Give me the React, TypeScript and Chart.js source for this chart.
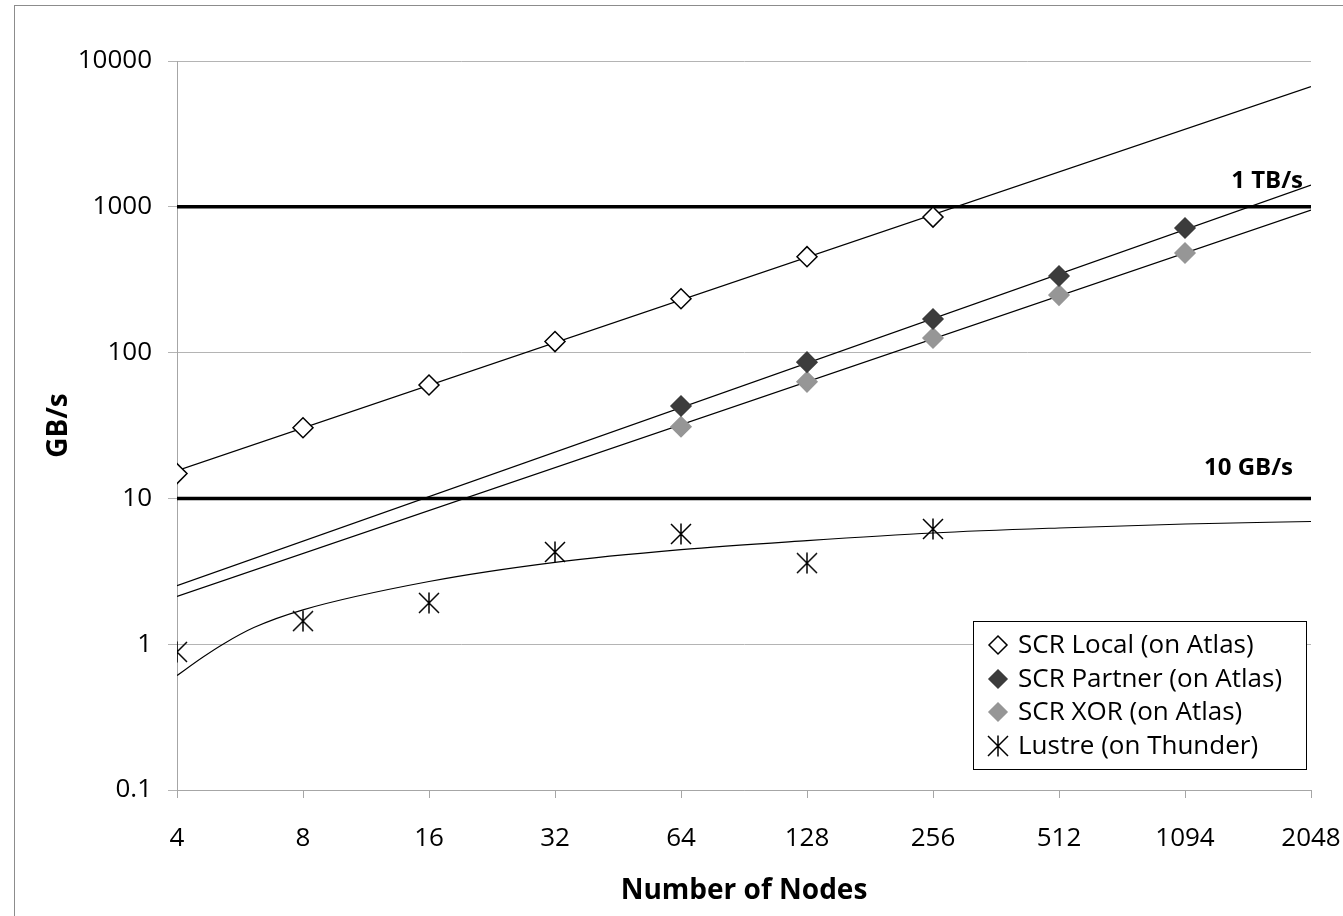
import React, { useEffect, useRef } from "react";
import { Chart, registerables } from "chart.js";

Chart.register(...registerables);

// ---- data ----
const nodeLabels = ["4", "8", "16", "32", "64", "128", "256", "512", "1094", "2048"];
const yTickValues = [0.1, 1, 10, 100, 1000, 10000];

const localIdx = [0, 1, 2, 3, 4, 5, 6];
const localGBs = [14.8, 30.5, 60, 119, 234, 455, 850];

const partnerIdx = [4, 5, 6, 7, 8];
const partnerGBs = [43, 86, 170, 335, 716];

const xorIdx = [4, 5, 6, 7, 8];
const xorGBs = [31, 63, 126, 248, 482];

const lustreIdx = [0, 1, 2, 3, 4, 5, 6];
const lustreGBs = [0.885, 1.44, 1.92, 4.29, 5.7, 3.6, 6.17];

// trend lines (end points / curve samples)
const localTrendIdx = [0, 9];
const localTrendGBs = [15.5, 6670];
const partnerTrendIdx = [0, 9];
const partnerTrendGBs = [2.52, 1410];
const xorTrendIdx = [0, 9];
const xorTrendGBs = [2.13, 950];
const lustreTrendIdx = [0, 0.21, 0.365, 0.61, 1, 2, 3, 4, 5, 6, 7, 8, 9];
const lustreTrendGBs = [0.61, 0.82, 1.0, 1.3, 1.72, 2.69, 3.64, 4.45, 5.13, 5.79, 6.27, 6.67, 6.95];

// reference levels
const refIdx = [0, 9];
const tbLevel = 1000;
const gbLevel = 10;

const legendLabels = [
  "SCR Local (on Atlas)",
  "SCR Partner (on Atlas)",
  "SCR XOR (on Atlas)",
  "Lustre (on Thunder)",
];

const FONT = "'Open Sans', 'Noto Sans', sans-serif";

const pts = (xs: number[], ys: number[]) => xs.map((x, i) => ({ x, y: ys[i] }));

function makeAsterisk(size: number): HTMLCanvasElement {
  const c = document.createElement("canvas");
  c.width = size;
  c.height = size;
  const g = c.getContext("2d")!;
  g.strokeStyle = "#000";
  g.lineWidth = 1.5;
  g.beginPath();
  g.moveTo(size / 2, 0.5);
  g.lineTo(size / 2, size - 0.5);
  g.moveTo(1, 1);
  g.lineTo(size - 1, size - 1);
  g.moveTo(size - 1, 1);
  g.lineTo(1, size - 1);
  g.stroke();
  return c;
}

export default function App() {
  const ref = useRef<HTMLCanvasElement | null>(null);

  useEffect(() => {
    if (!ref.current) return;
    const star = makeAsterisk(22);

    const overlay = {
      id: "overlay",
      afterDatasetsDraw(chart: any) {
        const { ctx, chartArea, scales } = chart;
        const y = scales.y;
        ctx.save();
        // level labels
        ctx.fillStyle = "#000";
        ctx.font = `bold 24px ${FONT}`;
        ctx.textAlign = "right";
        ctx.textBaseline = "alphabetic";
        ctx.fillText("1 TB/s", chartArea.right - 8, y.getPixelForValue(tbLevel) - 19);
        ctx.fillText("10 GB/s", chartArea.right - 18, y.getPixelForValue(gbLevel) - 23);

        // legend box
        const bx = 973, by = 621, bw = 333, bh = 148;
        ctx.fillStyle = "#fff";
        ctx.fillRect(bx, by, bw, bh);
        ctx.strokeStyle = "#000";
        ctx.lineWidth = 1;
        ctx.strokeRect(bx + 0.5, by + 0.5, bw, bh);
        ctx.font = `26px ${FONT}`;
        ctx.textAlign = "left";
        ctx.textBaseline = "middle";
        const rowY = [645, 679, 712, 746];
        const mx = 998;
        legendLabels.forEach((lab, i) => {
          const cy = rowY[i];
          if (i < 3) {
            const r = 9;
            ctx.beginPath();
            ctx.moveTo(mx, cy - r);
            ctx.lineTo(mx + r, cy);
            ctx.lineTo(mx, cy + r);
            ctx.lineTo(mx - r, cy);
            ctx.closePath();
            ctx.fillStyle = i === 0 ? "#fff" : i === 1 ? "#3c3c3c" : "#969696";
            ctx.fill();
            ctx.strokeStyle = i === 0 ? "#000" : i === 1 ? "#3c3c3c" : "#969696";
            ctx.lineWidth = 1.5;
            ctx.stroke();
          } else {
            ctx.drawImage(star, mx - 11, cy - 11);
          }
          ctx.fillStyle = "#000";
          ctx.fillText(lab, 1018, cy + 1);
        });
        ctx.restore();
      },
    };

    const lineStyle = {
      showLine: true,
      pointRadius: 0,
      pointHoverRadius: 0,
      borderColor: "#000",
      borderWidth: 1.3,
      fill: false,
    };

    const chart = new Chart(ref.current, {
      type: "scatter",
      data: {
        datasets: [
          {
            label: legendLabels[0],
            data: pts(localIdx, localGBs),
            pointStyle: "rectRot",
            pointRadius: 10,
            backgroundColor: "#fff",
            borderColor: "#000",
            borderWidth: 1.5,
          },
          {
            label: legendLabels[1],
            data: pts(partnerIdx, partnerGBs),
            pointStyle: "rectRot",
            pointRadius: 10,
            backgroundColor: "#3c3c3c",
            borderColor: "#3c3c3c",
            borderWidth: 1.5,
          },
          {
            label: legendLabels[2],
            data: pts(xorIdx, xorGBs),
            pointStyle: "rectRot",
            pointRadius: 10,
            backgroundColor: "#969696",
            borderColor: "#969696",
            borderWidth: 1.5,
          },
          {
            label: legendLabels[3],
            data: pts(lustreIdx, lustreGBs),
            pointStyle: star as any,
            pointRadius: 11,
          },
          { label: "local trend", data: pts(localTrendIdx, localTrendGBs), ...lineStyle },
          { label: "partner trend", data: pts(partnerTrendIdx, partnerTrendGBs), ...lineStyle },
          { label: "xor trend", data: pts(xorTrendIdx, xorTrendGBs), ...lineStyle },
          {
            label: "lustre trend",
            data: pts(lustreTrendIdx, lustreTrendGBs),
            ...lineStyle,
            borderWidth: 1.1,
            cubicInterpolationMode: "monotone",
          },
          {
            label: "1 TB/s",
            data: pts(refIdx, [tbLevel, tbLevel]),
            ...lineStyle,
            borderWidth: 3.5,
          },
          {
            label: "10 GB/s",
            data: pts(refIdx, [gbLevel, gbLevel]),
            ...lineStyle,
            borderWidth: 3.5,
          },
        ] as any,
      },
      options: {
        animation: false,
        responsive: false,
        maintainAspectRatio: false,
        layout: { padding: { top: 61, right: 32, left: 0, bottom: 0 } },
        plugins: {
          legend: { display: false },
          tooltip: { enabled: false },
        },
        scales: {
          x: {
            type: "linear",
            min: 0,
            max: 9,
            afterBuildTicks: (s: any) => {
              s.ticks = nodeLabels.map((_, i) => ({ value: i }));
            },
            afterFit: (s: any) => {
              s.height = 126;
              s.paddingLeft = 0;
              s.paddingRight = 0;
            },
            ticks: {
              autoSkip: false,
              maxRotation: 0,
              padding: 25,
              color: "#000",
              font: { family: FONT, size: 26 },
              callback: (v: any) => nodeLabels[Math.round(Number(v))] ?? "",
            },
            grid: {
              drawOnChartArea: false,
              drawTicks: true,
              tickLength: 8,
              color: "#a6a6a6",
            },
            border: { display: true, color: "#a6a6a6" },
            title: {
              display: true,
              text: "Number of Nodes",
              color: "#000",
              font: { family: FONT, size: 28, weight: "bold" },
              padding: { top: 0, bottom: 8 },
            },
          },
          y: {
            type: "logarithmic",
            min: 0.1,
            max: 10000,
            afterBuildTicks: (s: any) => {
              s.ticks = yTickValues.map((v) => ({ value: v }));
            },
            afterFit: (s: any) => {
              s.width = 177;
              s.paddingTop = 0;
              s.paddingBottom = 0;
            },
            ticks: {
              autoSkip: false,
              padding: 16,
              color: "#000",
              font: { family: FONT, size: 26 },
              callback: (v: any) => {
                const n = Number(v);
                const t = yTickValues.find((x) => Math.abs(x - n) / x < 1e-6);
                return t === undefined ? "" : String(t);
              },
            },
            grid: {
              color: "#b4b4b4",
              tickLength: 9,
            },
            border: { display: true, color: "#a6a6a6" },
            title: {
              display: true,
              text: "GB/s",
              color: "#000",
              font: { family: FONT, size: 28, weight: "bold" },
              padding: { top: 42, bottom: 0 },
            },
          },
        },
      },
      plugins: [overlay],
    } as any);

    return () => chart.destroy();
  }, []);

  return (
    <div style={{ position: "fixed", left: 0, top: 0, width: 1343, height: 916, background: "#fff", overflow: "hidden" }}>
      <div
        style={{
          position: "absolute",
          left: 14,
          top: 5,
          width: 1400,
          height: 1000,
          borderLeft: "1px solid #8c8c8c",
          borderTop: "1px solid #8c8c8c",
        }}
      />
      <canvas ref={ref} width={1343} height={916} style={{ position: "absolute", left: 0, top: 0, width: 1343, height: 916 }} />
    </div>
  );
}
